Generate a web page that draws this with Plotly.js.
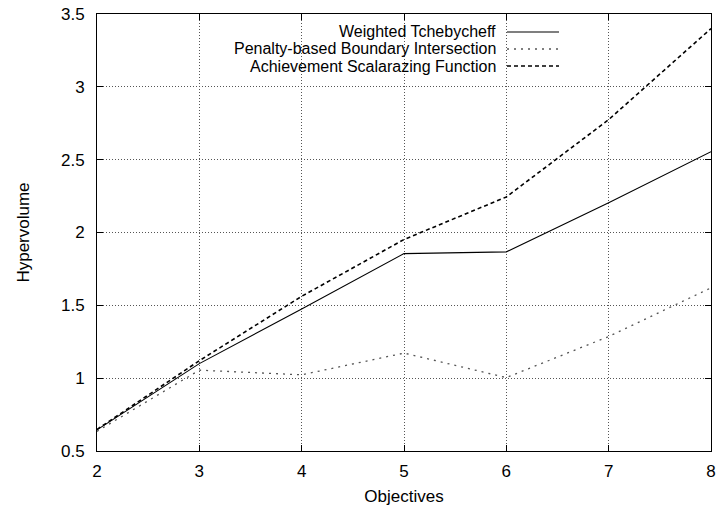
<!DOCTYPE html>
<html>
<head>
<meta charset="utf-8">
<script src="https://cdn.plot.ly/plotly-3.0.1.min.js"></script>
<style>html,body{margin:0;padding:0;background:#fff;}#chart{width:718px;height:506px;}</style>
</head>
<body>
<div id="chart"></div>
<script>
const objectives = [2, 3, 4, 5, 6, 7, 8];
const weightedTchebycheff = [0.645, 1.10, 1.475, 1.855, 1.867, 2.205, 2.555];
const penaltyBoundary = [0.635, 1.055, 1.023, 1.172, 1.004, 1.286, 1.62];
const achievementScalarizing = [0.648, 1.12, 1.562, 1.952, 2.244, 2.775, 3.40];
const seriesNames = ["Weighted Tchebycheff", "Penalty-based Boundary Intersection", "Achievement Scalarazing Function"];
const xTicks = [2, 3, 4, 5, 6, 7, 8];
const yTicks = [0.5, 1, 1.5, 2, 2.5, 3, 3.5];
const yTickText = ["0.5", "1", "1.5", "2", "2.5", "3", "3.5"];

const styles = [
  {color: "#000000", width: 1.1, dash: "solid"},
  {color: "#555555", width: 1.3, dash: "2px,5px"},
  {color: "#000000", width: 1.6, dash: "4px,3px"}
];
const seriesData = [weightedTchebycheff, penaltyBoundary, achievementScalarizing];

const traces = seriesData.map((ys, i) => ({
  x: objectives, y: ys, type: "scatter", mode: "lines",
  name: seriesNames[i], line: styles[i], showlegend: false, hoverinfo: "skip"
}));

const legendRowsY = [32, 49, 66];
const figH = 506, mT = 14, mB = 55, mL = 97, mR = 7, figW = 718;
const plotH = figH - mT - mB, plotW = figW - mL - mR;
const py = p => 1 - (p - mT) / plotH;
const px = p => (p - mL) / plotW;

const font = {family: "Liberation Sans, Arial, sans-serif", size: 17, color: "#000"};
const legendFont = {family: "Liberation Sans, Arial, sans-serif", size: 16, color: "#000"};

const annotations = seriesNames.map((n, i) => ({
  xref: "paper", yref: "paper", x: px(497), y: py(legendRowsY[i]),
  xanchor: "right", yanchor: "middle", showarrow: false, text: n,
  font: legendFont, borderpad: 0
}));
const shapes = [{
  type: "rect", xref: "paper", yref: "paper", layer: "between",
  x0: px(186), x1: px(564), y0: py(14.5), y1: py(77),
  fillcolor: "#ffffff", line: {width: 0}
}].concat(seriesNames.map((n, i) => ({
  type: "line", xref: "paper", yref: "paper", layer: "above",
  x0: px(507), x1: px(559), y0: py(legendRowsY[i]), y1: py(legendRowsY[i]),
  line: styles[i]
})));

const layout = {
  width: 718, height: 506,
  margin: {l: mL, r: mR, t: mT, b: mB, pad: 0},
  paper_bgcolor: "#fff", plot_bgcolor: "#fff",
  font: font,
  showlegend: false,
  xaxis: {
    range: [2, 8], tickvals: xTicks, ticktext: xTicks.map(String),
    showline: true, linecolor: "#000", linewidth: 1, mirror: "ticks",
    ticks: "inside", ticklen: 6, tickcolor: "#000", tickwidth: 1,
    showgrid: true, gridcolor: "#555", griddash: "1px,2px", gridwidth: 1,
    zeroline: false, ticklabelstandoff: 5, ticklabeloverflow: "allow",
    title: {text: "Objectives", font: font, standoff: 12}
  },
  yaxis: {
    range: [0.5, 3.5], tickvals: yTicks, ticktext: yTickText,
    showline: true, linecolor: "#000", linewidth: 1, mirror: "ticks",
    ticks: "inside", ticklen: 6, tickcolor: "#000", tickwidth: 1,
    showgrid: true, gridcolor: "#555", griddash: "1px,2px", gridwidth: 1,
    zeroline: false, ticklabelstandoff: 8, ticklabeloverflow: "allow",
    title: {text: "Hypervolume", font: font, standoff: 27}
  },
  annotations: annotations,
  shapes: shapes
};

Plotly.newPlot("chart", traces, layout, {staticPlot: true, displayModeBar: false});
</script>
</body>
</html>
